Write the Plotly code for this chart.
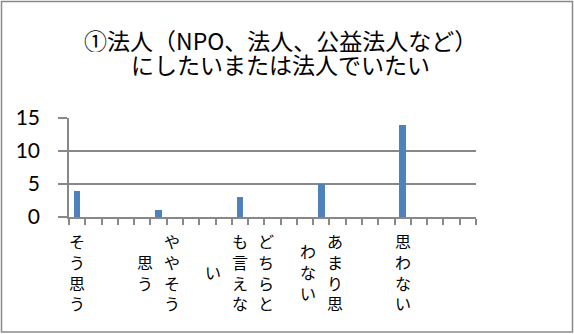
import plotly.graph_objects as go

# ---- data ----
categories = ["そう思う", "ややそう思う", "どちらとも言えない", "あまり思わない", "思わない"]
values = [4, 1, 3, 5, 14]
y_ticks = [0, 5, 10, 15]
title_lines = ["①法人（NPO、法人、公益法人など）", "にしたいまたは法人でいたい"]

# ---- layout constants ----
W, H = 574, 334
L, R, T, B = 69, 476, 118, 217          # plot area in pixels
SLOTS = 5                                # each category occupies 5 slots on the axis
N_SLOTS = len(categories) * SLOTS
GRID = "#888888"
BAR = "#4F81BD"
JP = "Noto Sans CJK JP"


def py(p):
    """pixel row -> paper y"""
    return (B - p) / (B - T)


def px(p):
    """pixel column -> paper x"""
    return (p - L) / (R - L)


xpos = [i * SLOTS for i in range(len(categories))]

fig = go.Figure()
fig.add_trace(go.Bar(x=xpos, y=values, width=0.41, marker=dict(color=BAR, line=dict(width=0)),
                     hoverinfo="skip"))

annotations = []
# vertical stacked category labels (wrap every 4 characters, columns right->left)
COL_PITCH = 26.5
for xp, lab in zip(xpos, categories):
    cols = [lab[i:i + 4] for i in range(0, len(lab), 4)]
    n = len(cols)
    for j, col in enumerate(cols):
        xs = ((n - 1) / 2 - j) * COL_PITCH
        annotations.append(dict(x=xp, y=py(272), xref="x", yref="paper", text="<br>".join(col),
                                showarrow=False, xanchor="center", yanchor="middle", xshift=xs,
                                borderpad=0,
                                font=dict(family=JP, size=16, color="#000000")))

# chart title (two centred lines)
for txt, cy in zip(title_lines, [40, 64]):
    annotations.append(dict(x=px(280), y=py(cy), xref="paper", yref="paper", text=txt,
                            showarrow=False, xanchor="center", yanchor="middle", borderpad=0,
                            height=24, valign="middle",
                            font=dict(family=JP, size=23, color="#000000")))

fig.update_layout(
    width=W, height=H,
    margin=dict(l=L, r=W - R, t=T, b=H - B, pad=0, autoexpand=False),
    paper_bgcolor="white", plot_bgcolor="white",
    showlegend=False,
    bargap=0,
    xaxis=dict(range=[-0.5, N_SLOTS - 0.5], tickvals=[k - 0.5 for k in range(N_SLOTS + 1)],
               showticklabels=False, ticks="outside", ticklen=6, tickwidth=1.5,
               tickcolor=GRID, showgrid=False, zeroline=False, showline=True,
               linecolor=GRID, linewidth=1.5, fixedrange=True, automargin=False),
    yaxis=dict(range=[0, 15.01], tickvals=y_ticks, ticks="outside", ticklen=9, tickwidth=1.5,
               tickcolor=GRID, showgrid=True, gridcolor=GRID, gridwidth=1.5, zeroline=False,
               showline=True, linecolor=GRID, linewidth=1.5, ticklabelstandoff=14,
               tickfont=dict(family="Lato", size=21, color="#000000"), fixedrange=True,
               automargin=False),
    annotations=annotations,
    shapes=[dict(type="rect", xref="paper", yref="paper", x0=px(1.5), x1=px(W - 1.5),
                 y0=py(H - 2), y1=py(1.5),
                 line=dict(color="#8a8a8a", width=1.5), fillcolor="rgba(0,0,0,0)", layer="below")],
)

fig.write_html("out.html", config={"displayModeBar": False},
               post_script="document.body.style.margin='0';document.body.style.overflow='hidden';")
